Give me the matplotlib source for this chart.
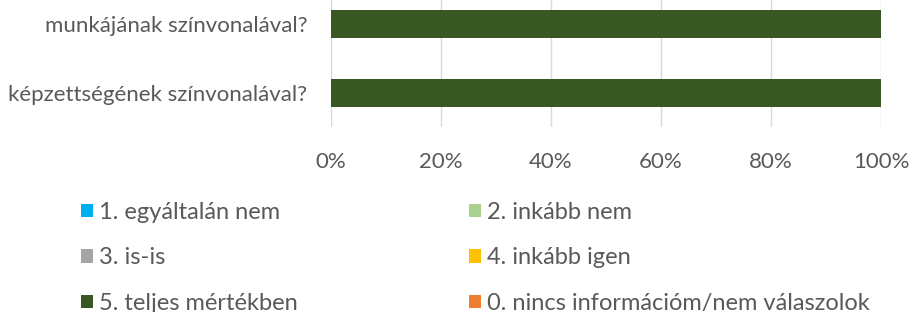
import matplotlib.pyplot as plt
from matplotlib.ticker import PercentFormatter

plt.rcParams['font.family'] = ['Lato', 'DejaVu Sans']

# Categories (bottom to top)
questions = ["képzettségének színvonalával?", "munkájának színvonalával?"]

# Answer categories, in stacking order
answers = ["1. egyáltalán nem", "2. inkább nem", "3. is-is", "4. inkább igen",
           "5. teljes mértékben", "0. nincs információm/nem válaszolok"]
colors = ["#00B0F0", "#A9D18E", "#A5A5A5", "#FFC000", "#385723", "#ED7D31"]

# Share of answers per question (%)
v_egyaltalan = [0, 0]
v_inkabb_nem = [0, 0]
v_isis = [0, 0]
v_inkabb_igen = [0, 0]
v_teljes = [100, 100]
v_nincs = [0, 0]
values = [v_egyaltalan, v_inkabb_nem, v_isis, v_inkabb_igen, v_teljes, v_nincs]

text_color = "#595959"

fig = plt.figure(figsize=(9.09, 3.12), dpi=100)
ax = fig.add_axes([331 / 909, 1 - 127 / 312, 550 / 909, 127 / 312])

y = range(len(questions))
left = [0] * len(questions)
handles = []
for name, vals, col in zip(answers, values, colors):
    b = ax.barh(y, vals, left=left, height=0.406, color=col, label=name, zorder=3)
    handles.append(b)
    left = [l + v for l, v in zip(left, vals)]

ax.set_xlim(0, 100)
ax.set_ylim(-0.493, 1.348)
ax.set_xticks([0, 20, 40, 60, 80, 100])
ax.xaxis.set_major_formatter(PercentFormatter(decimals=0))
ax.set_yticks(list(y))
ax.set_yticklabels(questions)
ax.grid(axis='x', color="#D9D9D9", linewidth=1, zorder=0)
for s in ax.spines.values():
    s.set_visible(False)
ax.tick_params(axis='both', length=0, labelsize=16, colors=text_color)
ax.tick_params(axis='x', pad=18)
ax.tick_params(axis='y', pad=17)

order = [0, 2, 4, 1, 3, 5]
leg = fig.legend([handles[i] for i in order], [answers[i] for i in order],
                 ncol=2, loc='upper left', bbox_to_anchor=(81 / 909, 1 - 202 / 312),
                 frameon=False, fontsize=17, handlelength=0.5, handleheight=0.5,
                 handletextpad=0.25, columnspacing=7.28, labelspacing=1.03,
                 borderaxespad=0, borderpad=0)
for t in leg.get_texts():
    t.set_color(text_color)

fig.savefig("out.png", dpi=100)
